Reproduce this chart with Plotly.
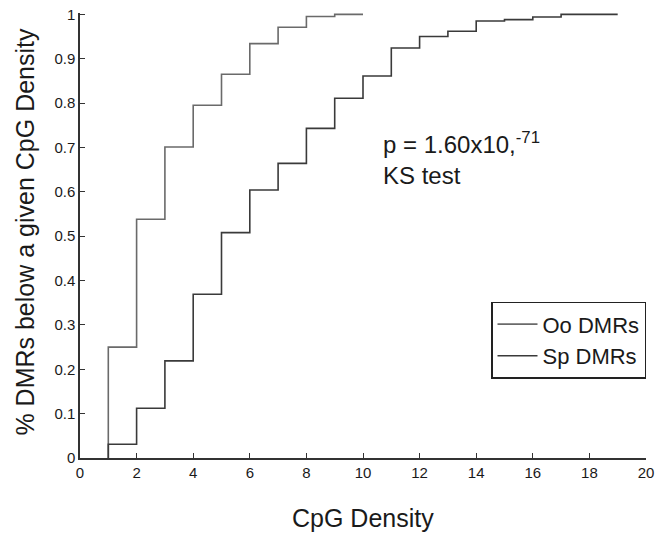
import plotly.graph_objects as go

# CpG density values (step positions)
oo_x = [1, 1, 2, 3, 4, 5, 6, 7, 8, 9, 10]
oo_y = [0, 0.25, 0.538, 0.701, 0.795, 0.865, 0.934, 0.971, 0.995, 1.0, 1.0]

sp_x = [1, 1, 2, 3, 4, 5, 6, 7, 8, 9, 10, 11, 12, 13, 14, 15, 16, 17, 18, 19]
sp_y = [0, 0.031, 0.112, 0.219, 0.369, 0.508, 0.604, 0.664, 0.743, 0.811,
        0.861, 0.924, 0.950, 0.962, 0.985, 0.988, 0.994, 1.0, 1.0, 1.0]

x_ticks = list(range(0, 21, 2))
y_ticks = [0, 0.1, 0.2, 0.3, 0.4, 0.5, 0.6, 0.7, 0.8, 0.9, 1]
y_ticktext = ["0", "0.1", "0.2", "0.3", "0.4", "0.5", "0.6", "0.7", "0.8", "0.9", "1"]

font_family = "Liberation Sans, Arial, sans-serif"
txt = "#1a1a1a"

fig = go.Figure()
fig.add_trace(go.Scatter(x=oo_x, y=oo_y, mode="lines", name="Oo DMRs",
                         line=dict(shape="hv", color="#6a6a6a", width=1.6)))
fig.add_trace(go.Scatter(x=sp_x, y=sp_y, mode="lines", name="Sp DMRs",
                         line=dict(shape="hv", color="#3a3a3a", width=1.6)))

fig.add_annotation(x=10.62, y=0.601, xref="x", yref="y", xanchor="left", yanchor="bottom",
                   text="p = 1.60x10,<sup>-71</sup><br>KS test", showarrow=False, align="left",
                   font=dict(family=font_family, size=24, color=txt))

fig.add_annotation(x=0.5, y=-0.135, xref="paper", yref="paper", xanchor="center", yanchor="middle",
                   text="CpG Density", showarrow=False,
                   font=dict(family=font_family, size=25, color=txt))
fig.add_annotation(x=-0.097, y=0.509, xref="paper", yref="paper", xanchor="center", yanchor="middle",
                   text="% DMRs below a given CpG Density", showarrow=False, textangle=-90,
                   font=dict(family=font_family, size=25, color=txt))

fig.update_layout(
    width=657, height=538,
    margin=dict(l=80, r=11, t=13, b=80),
    paper_bgcolor="white", plot_bgcolor="white",
    font=dict(family=font_family, color=txt),
    showlegend=True,
    legend=dict(x=1.0, y=0.351, xanchor="right", yanchor="top",
                bordercolor="#222", borderwidth=1.5, bgcolor="white",
                font=dict(size=22, color=txt), itemwidth=40,
                tracegroupgap=0),
    xaxis=dict(range=[0, 20], tickvals=x_ticks, ticks="inside", ticklen=5,
               showline=True, linecolor="#333", linewidth=1.5, tickcolor="#333",
               showgrid=False, zeroline=False, tickfont=dict(size=15, color=txt),
               automargin=False),
    yaxis=dict(range=[0, 1.003], tickvals=y_ticks, ticktext=y_ticktext, ticks="inside", ticklen=5,
               showline=True, linecolor="#333", linewidth=1.5, tickcolor="#333",
               showgrid=False, zeroline=False, tickfont=dict(size=15, color=txt),
               automargin=False),
)

fig.write_html("out.html")
